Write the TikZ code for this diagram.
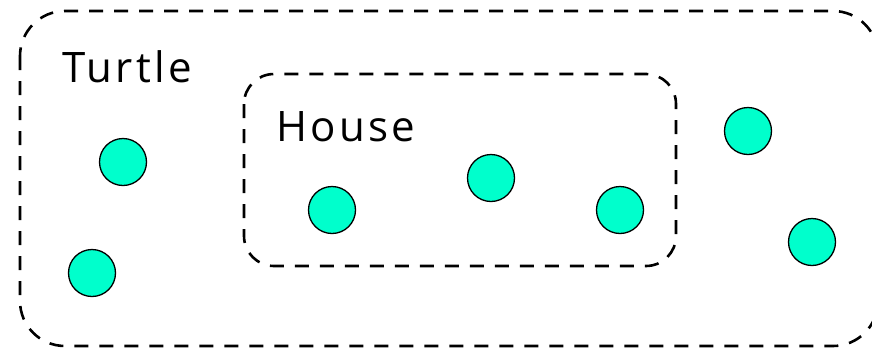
\documentclass[tikz,border=0pt]{standalone}
\usepackage{fontspec}
\setmainfont{Open Sans}[LetterSpace=8]
\usetikzlibrary{positioning}

\begin{document}
\begin{tikzpicture}[
    x=1pt, y=-1pt,
    grp/.style={draw, line width=2.6pt, dash pattern=on 14pt off 11pt},
    obj/.style={circle, draw, line width=1.3pt, fill=objcol, minimum size=47pt, inner sep=0pt},
    lbl/.style={anchor=base west, inner sep=0pt, font=\fontsize{42}{48}\selectfont}
]
\definecolor{objcol}{RGB}{0,255,204}
\useasboundingbox (0,0) rectangle (872,349);

% outer and inner sets
\draw[grp, rounded corners=45pt] (20,11) rectangle (878,346);
\draw[grp, rounded corners=30pt] (244,74) rectangle (676,266);

\node[lbl] (turtle) at (62,82) {Turtle};
\node[lbl] (house) at (276,141) {House};

\node[obj] (a1) at (123,162) {};
\node[obj] (a2) at (92,273) {};
\node[obj] (a3) at (332,210) {};
\node[obj] (a4) at (491,178) {};
\node[obj] (a5) at (620,210) {};
\node[obj] (a6) at (748,131) {};
\node[obj] (a7) at (812,242) {};

\end{tikzpicture}
\end{document}
